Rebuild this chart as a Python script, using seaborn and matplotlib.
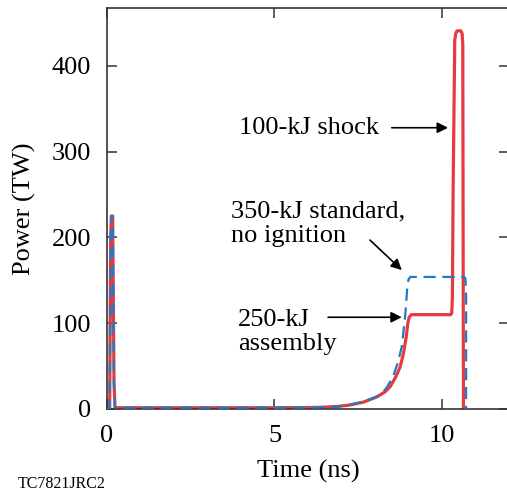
import matplotlib
matplotlib.use("Agg")
import matplotlib.pyplot as plt
import seaborn as sns

# ---- data ----
t_shock = [0.0, 0.08, 0.11, 0.13, 0.17, 0.21, 0.24, 1.0, 3.0, 5.0, 6.0, 6.4, 6.9, 7.25, 7.65,
           8.05, 8.3, 8.45, 8.6, 8.75, 8.85, 8.93, 8.98, 9.02, 9.08, 10.26, 10.29, 10.31, 10.33,
           10.38, 10.41, 10.45, 10.56, 10.6, 10.62, 10.63, 10.64]
p_shock = [0.0, 0.0, 200.0, 225.0, 225.0, 30.0, 1.5, 1.5, 1.5, 1.5, 1.7, 2.0, 3.0, 4.7, 8.0,
           14.0, 20.0, 26.0, 36.0, 49.0, 65.0, 84.0, 100.0, 107.0, 110.0, 110.0, 112.0, 130.0, 250.0,
           430.0, 438.0, 441.0, 441.0, 438.0, 425.0, 200.0, 0.0]

t_std = [0.0, 0.08, 0.11, 0.13, 0.17, 0.21, 0.24, 1.0, 3.0, 5.0, 6.0, 6.4, 6.9, 7.25, 7.7,
         8.15, 8.35, 8.54, 8.68, 8.8, 8.9, 8.96, 9.0, 9.05, 10.66, 10.70, 10.72, 10.72]
p_std = [0.0, 0.0, 200.0, 225.0, 225.0, 30.0, 1.5, 1.5, 1.5, 1.5, 1.7, 2.0, 3.0, 5.0, 9.0,
         16.0, 25.0, 38.0, 54.0, 73.0, 108.0, 140.0, 151.0, 154.0, 154.0, 152.0, 130.0, 0.0]

x_ticks = [0, 5, 10]
y_ticks = [0, 100, 200, 300, 400]

RED = "#e8393f"
BLUE = "#2479c2"

sns.set_theme(style="ticks")
plt.rcParams["font.family"] = ["Liberation Serif", "DejaVu Serif"]
plt.rcParams["text.color"] = "black"
plt.rcParams["axes.labelcolor"] = "black"

fig = plt.figure(figsize=(5.07, 4.92), dpi=100)
ax = fig.add_axes([0.211, 0.1687, 1.004 - 0.211, 0.9837 - 0.1687])

sns.lineplot(x=t_std, y=p_std, ax=ax, sort=False, estimator=None,
             color=BLUE, linewidth=1.6, linestyle="--")
sns.lineplot(x=t_shock, y=p_shock, ax=ax, sort=False, estimator=None,
             color=RED, linewidth=2.3, solid_joinstyle="round")
ax.lines[0].set_dashes((5.5, 3))
ax.lines[0].set_zorder(3)
ax.lines[1].set_zorder(2)

ax.set_xlim(0, 12)
ax.set_ylim(0, 467.6)
ax.set_xticks(x_ticks)
ax.set_yticks(y_ticks)
ax.tick_params(direction="in", length=7, width=1.1, top=True, right=True,
               labelsize=19, colors="#333333", labelcolor="black", pad=11.5)
for s in ax.spines.values():
    s.set_linewidth(1.2)
    s.set_color("#333333")

ax.set_xlabel("Time (ns)", fontsize=19, labelpad=9)
ax.set_ylabel("Power (TW)", fontsize=19, labelpad=11)

ap = dict(arrowstyle="-|>", color="black", lw=1.2, mutation_scale=16, shrinkA=0, shrinkB=0)
ax.text(3.95, 328, "100-kJ shock", fontsize=19, va="center", ha="left")
ax.annotate("", xy=(10.18, 328), xytext=(8.5, 328), arrowprops=ap)
ax.text(3.7, 216, "350-kJ standard,\nno ignition", fontsize=19, va="center", ha="left",
        linespacing=1.12)
ax.annotate("", xy=(8.8, 162), xytext=(7.85, 197), arrowprops=ap)
ax.text(3.9, 90, "250-kJ\nassembly", fontsize=19, va="center", ha="left", linespacing=1.12)
ax.annotate("", xy=(8.8, 107), xytext=(6.6, 107), arrowprops=ap)

fig.text(18 / 507, 1 - 484 / 492, "TC7821JRC2", fontsize=11.5, va="center", ha="left")

fig.savefig("out.png", dpi=100)
